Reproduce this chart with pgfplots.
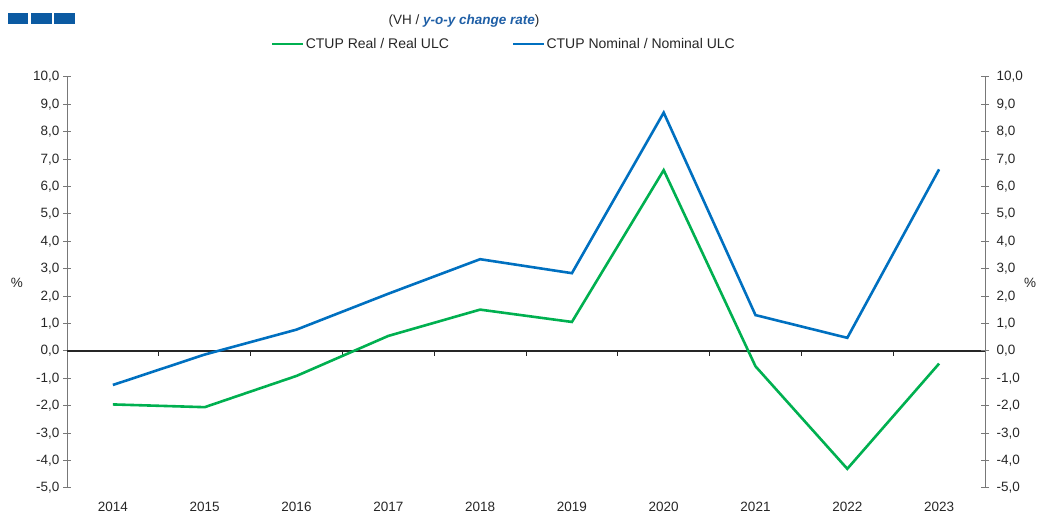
\documentclass[border=0pt]{standalone}
\usepackage{fontspec}
\setmainfont{Liberation Sans}
\usepackage{pgfplots}
\usepackage{pgfplotstable}
\pgfplotsset{compat=1.18}
\definecolor{cgreen}{RGB}{0,176,80}
\definecolor{cblue}{RGB}{0,112,192}
\definecolor{csq}{RGB}{11,90,162}
\definecolor{ctitle}{RGB}{31,95,166}
\definecolor{ctxt}{RGB}{38,38,38}
\definecolor{caxis}{RGB}{120,120,120}

\pgfplotstableread{
x real nominal
0 -1.95 -1.24
1 -2.05 -0.13
2 -0.91 0.78
3 0.55 2.09
4 1.51 3.35
5 1.06 2.84
6 6.60 8.70
7 -0.56 1.31
8 -4.30 0.48
9 -0.46 6.63
}\data

\pgfplotsset{
  common/.style={
    at={(67pt,25pt)}, anchor=south west,
    scale only axis, width=918pt, height=411pt,
    xmin=-0.5, xmax=9.5, ymin=-5, ymax=10,
    ytick={-5,-4,...,10},
    tick align=center,
    major tick length=8pt,
    y axis line style={caxis, line width=1pt},
    major y tick style={caxis, line width=1pt},
    yticklabel style={font=\fontsize{13.5}{16}\selectfont, text=ctxt,
      /pgf/number format/.cd, fixed, fixed zerofill, precision=1, use comma, assume math mode=true},
    ylabel={\%},
  }
}

\begin{document}
\begin{tikzpicture}[x=1pt,y=1pt]
\path[use as bounding box] (0,0) rectangle (1037,513);
\fill[csq] (8,500) rectangle (28,489);
\fill[csq] (31,500) rectangle (52,489);
\fill[csq] (54,500) rectangle (75,489);
\node[font=\fontsize{13.5}{16}\selectfont, text=ctxt] at (464,492)
  {(VH / \textcolor{ctitle}{\textbf{\textit{y-o-y change rate}}})};

\begin{axis}[common,
  axis y line*=left, axis x line*=bottom,
  x axis line style={draw=none},
  xtick={0,...,9},
  xticklabels={2014,2015,2016,2017,2018,2019,2020,2021,2022,2023},
  major x tick style={draw=none},
  xticklabel style={font=\fontsize{13.5}{16}\selectfont, text=ctxt, yshift=-9pt, inner ysep=0.5pt},
  ylabel style={at={(rel axis cs:0,0.5)}, anchor=center, rotate=-90, xshift=-50pt,
    font=\fontsize{13.5}{16}\selectfont, text=ctxt},
  legend style={at={(rel axis cs:0.4755,1.0803)}, anchor=center, draw=none, fill=none,
    legend columns=2, font=\fontsize{14}{16}\selectfont, text=ctxt,
    /tikz/every even column/.append style={column sep=62pt},
    nodes={inner xsep=1pt}},
  legend image code/.code={\draw[#1] (0pt,0pt) -- (31pt,0pt);},
]
\addplot[ctxt, line width=1.1pt, forget plot] coordinates {(-0.5,0) (9.5,0)};
\addplot[ycomb, ctxt, line width=1pt, forget plot, mark=none] coordinates
  {(0.5,-0.18) (1.5,-0.18) (2.5,-0.18) (3.5,-0.18) (4.5,-0.18) (5.5,-0.18) (6.5,-0.18) (7.5,-0.18) (8.5,-0.18)};
\addplot[cgreen, line width=2.6pt, mark=none] table[x=x, y=real] {\data};
\addlegendentry{CTUP Real / Real ULC}
\addplot[cblue, line width=2.6pt, mark=none] table[x=x, y=nominal] {\data};
\addlegendentry{CTUP Nominal / Nominal ULC}
\end{axis}

\begin{axis}[common,
  axis y line*=right, axis x line=none,
  yticklabel style={/tikz/xshift=4pt},
  ylabel style={at={(rel axis cs:1,0.5)}, anchor=center, rotate=-90, xshift=45pt,
    font=\fontsize{13.5}{16}\selectfont, text=ctxt},
]
\end{axis}
\end{tikzpicture}
\end{document}
